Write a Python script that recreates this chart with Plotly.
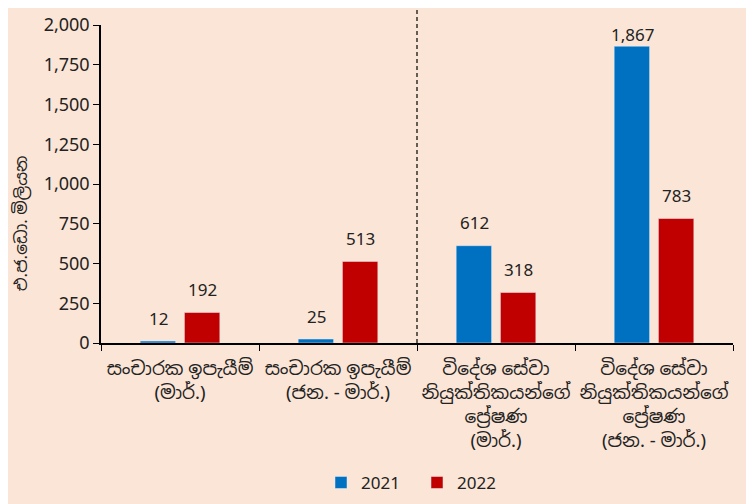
import plotly.graph_objects as go

categories = [
    "සංචාරක ඉපැයීම්<br>(මාර්.)",
    "සංචාරක ඉපැයීම්<br>(ජන. - මාර්.)",
    "විදේශ සේවා<br>නියුක්තිකයන්ගේ<br>\u0db4\u0dca\u200d\u0dbb\u0dda\u0dc2\u0dab<br>(මාර්.)",
    "විදේශ සේවා<br>නියුක්තිකයන්ගේ<br>\u0db4\u0dca\u200d\u0dbb\u0dda\u0dc2\u0dab<br>(ජන. - මාර්.)",
]
series_names = ["2021", "2022"]
values_2021 = [12, 25, 612, 1867]
values_2022 = [192, 513, 318, 783]
y_title = "එ.ජ.ඩො. මිලියන"
y_ticks = [0, 250, 500, 750, 1000, 1250, 1500, 1750, 2000]
y_max = 2000

BLUE = "#0070C0"
RED = "#C00000"
BG = "#FBE5D6"
FONT = "Noto Sans, Noto Sans Sinhala, sans-serif"
TXT = "#222222"

fig = go.Figure()
fig.add_trace(go.Bar(x=categories, y=values_2021, name=series_names[0],
                     marker_color=BLUE))
fig.add_trace(go.Bar(x=categories, y=values_2022, name=series_names[1],
                     marker_color=RED))

# data labels (kept inside the plot area near the top, like the original)
px_per_unit = 318 / y_max
for vals, shift in ((values_2021, -22), (values_2022, 22)):
    for c, v in zip(categories, vals):
        room = (y_max - v) * px_per_unit - 9
        fig.add_annotation(x=c, y=v, text=f"{v:,}", showarrow=False,
                           xshift=shift, yshift=min(23, room),
                           font=dict(size=17, color=TXT, family=FONT))

# dashed divider
fig.add_shape(type="line", xref="x", yref="paper", x0=1.5, x1=1.5,
              y0=0, y1=1.05,
              line=dict(color="#000000", width=1.2, dash="4px,3px"))

fig.add_annotation(text=y_title, xref="paper", yref="paper", x=-0.128, y=0.377,
                   xanchor="center", yanchor="middle",
                   textangle=-90, showarrow=False,
                   font=dict(size=17, color=TXT, family=FONT))

fig.update_layout(
    width=739, height=496,
    margin=dict(l=93, r=14, t=17, b=161, autoexpand=False),
    paper_bgcolor=BG, plot_bgcolor="rgba(0,0,0,0)",
    barmode="group", bargap=0.44, bargroupgap=0.2,
    font=dict(family=FONT, size=17, color=TXT),
    showlegend=True,
    legend=dict(orientation="h", x=0.5, xanchor="center", y=-0.44,
                yanchor="middle", font=dict(size=17, color=TXT),
                traceorder="normal", bgcolor="rgba(0,0,0,0)",
                itemwidth=30, entrywidth=51),
    xaxis=dict(showline=True, linecolor="#000000", linewidth=1.5,
               ticks="outside", tickson="boundaries", ticklen=6,
               tickcolor="#000000", tickangle=0, automargin=False,
               ticklabelstandoff=8,
               tickfont=dict(size=18.5, color=TXT)),
    yaxis=dict(range=[0, y_max], tickvals=y_ticks, tickformat=",",
               showline=True, linecolor="#000000", linewidth=1.5,
               ticks="outside", ticklen=6, tickcolor="#000000",
               showgrid=False, zeroline=False, automargin=False,
               tickfont=dict(size=18, color=TXT)),
)

fig.write_html("out.html")
